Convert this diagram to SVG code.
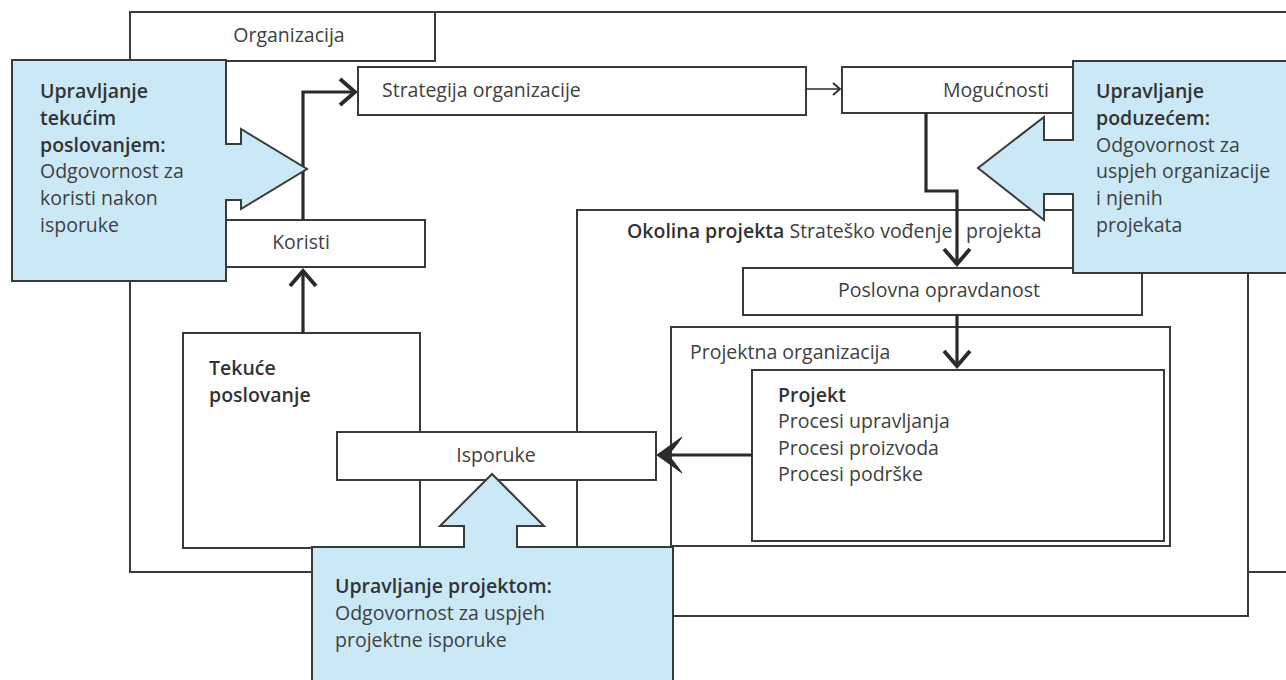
<svg xmlns="http://www.w3.org/2000/svg" width="1286" height="680" viewBox="0 0 1286 680">
<defs>
<style>
.box{fill:#fff;stroke:#3a3a3a;stroke-width:2}
.frame{fill:none;stroke:#3a3a3a;stroke-width:2}
.blue{fill:#cbe8f7;stroke:#3a3a3a;stroke-width:2;stroke-linejoin:miter}
.t{font-family:"Open Sans","Noto Sans",sans-serif;font-size:19.5px;fill:#404040}
.b{font-weight:600;fill:#333}
.thick{fill:none;stroke:#2a2a2a;stroke-width:3.2}
.thin{fill:none;stroke:#2a2a2a;stroke-width:1.6}
</style>
<marker id="ah" markerUnits="userSpaceOnUse" markerWidth="40" markerHeight="40" refX="0" refY="0" viewBox="-20 -20 40 40" orient="auto" overflow="visible">
<path d="M-15,-13 L0,0 L-15,13" fill="none" stroke="#2a2a2a" stroke-width="3.8" stroke-linejoin="miter"/>
</marker>
<marker id="ahs" markerUnits="userSpaceOnUse" markerWidth="20" markerHeight="20" refX="0" refY="0" viewBox="-10 -10 20 20" orient="auto" overflow="visible">
<path d="M-7,-6 L0,0 L-7,6" fill="none" stroke="#2a2a2a" stroke-width="1.8"/>
</marker>
<marker id="ahb" markerUnits="userSpaceOnUse" markerWidth="60" markerHeight="60" refX="0" refY="0" viewBox="-30 -30 60 60" orient="auto" overflow="visible">
<path d="M1,0 L-24,-18 Q-15,-5 -10,0 Q-15,5 -24,18 Z" fill="#2a2a2a" stroke="#2a2a2a" stroke-width="1" stroke-linejoin="round"/>
</marker>
</defs>

<g id="organizacija-frame">
<path class="frame" d="M1290,12 H130 V572 H1290"/>
</g>
<g id="organizacija">
<rect class="box" x="130" y="12" width="305" height="49"/>
<text class="t" x="289" y="42" text-anchor="middle">Organizacija</text>
</g>
<g id="strategija">
<rect class="box" x="358" y="67" width="448" height="48"/>
<text class="t" x="382" y="97">Strategija organizacije</text>
</g>
<g id="mogucnosti">
<rect class="box" x="842" y="67" width="250" height="46"/>
<text class="t" x="943" y="97">Mogućnosti</text>
</g>
<g id="koristi">
<rect class="box" x="200" y="220" width="225" height="47"/>
<text class="t" x="301" y="249" text-anchor="middle">Koristi</text>
</g>
<g id="tekuce">
<rect class="box" x="183" y="333" width="237" height="215"/>
<text class="t b" x="209" y="375">Tekuće</text>
<text class="t b" x="209" y="402">poslovanje</text>
</g>
<g id="okolina">
<rect class="box" x="577" y="210" width="671" height="406"/>
<text class="t" x="627" y="238"><tspan class="b">Okolina projekta</tspan> Strateško vođenje</text>
<text class="t" x="966" y="238">projekta</text>
</g>
<g id="poslovna">
<rect class="box" x="743" y="268" width="399" height="47"/>
<text class="t" x="838" y="297">Poslovna opravdanost</text>
</g>
<g id="projektna-organizacija">
<rect class="box" x="671" y="327" width="499" height="219"/>
<text class="t" x="690" y="359">Projektna organizacija</text>
</g>
<g id="projekt">
<rect class="box" x="752" y="370" width="412" height="171"/>
<text class="t b" x="778" y="402">Projekt</text>
<text class="t" x="778" y="428">Procesi upravljanja</text>
<text class="t" x="778" y="455">Procesi proizvoda</text>
<text class="t" x="778" y="481">Procesi podrške</text>
</g>
<g id="isporuke">
<rect class="box" x="337" y="432" width="319" height="48"/>
<text class="t" x="496" y="462" text-anchor="middle">Isporuke</text>
</g>

<g id="connectors">
<path class="thick" d="M303,333 V271" marker-end="url(#ah)"/>
<path class="thick" d="M303,220 V92 H355" marker-end="url(#ah)"/>
<path class="thin" d="M806,89 H840" marker-end="url(#ahs)"/>
<path class="thick" d="M926,113 V191 H957 V264" marker-end="url(#ah)"/>
<path class="thick" d="M957,315 V366" marker-end="url(#ah)"/>
<path class="thick" d="M752,455 H658" marker-end="url(#ahb)"/>
</g>

<g id="upravljanje-tekucim">
<path class="blue" d="M12,60 H226 V144 H241 V129 L307,169 L241,209 V200 H226 V281 H12 Z"/>
<text class="t b" x="40" y="98">Upravljanje</text>
<text class="t b" x="40" y="125">tekućim</text>
<text class="t b" x="40" y="152">poslovanjem:</text>
<text class="t" x="40" y="178">Odgovornost za</text>
<text class="t" x="40" y="205">koristi nakon</text>
<text class="t" x="40" y="232">isporuke</text>
</g>
<g id="upravljanje-poduzecem">
<path class="blue" d="M1073,61 H1292 V273 H1073 V194 H1044 V220 L978,168 L1044,117 V140 H1073 Z"/>
<text class="t b" x="1096" y="98">Upravljanje</text>
<text class="t b" x="1096" y="125">poduzećem:</text>
<text class="t" x="1096" y="152">Odgovornost za</text>
<text class="t" x="1096" y="178">uspjeh organizacije</text>
<text class="t" x="1096" y="205">i njenih</text>
<text class="t" x="1096" y="232">projekata</text>
</g>
<g id="upravljanje-projektom">
<path class="blue" d="M312,547 H464 V526 H440 L492,474 L544,526 H517 V547 H673 V692 H312 Z"/>
<text class="t b" x="335" y="593">Upravljanje projektom:</text>
<text class="t" x="335" y="620">Odgovornost za uspjeh</text>
<text class="t" x="335" y="647">projektne isporuke</text>
</g>
</svg>
